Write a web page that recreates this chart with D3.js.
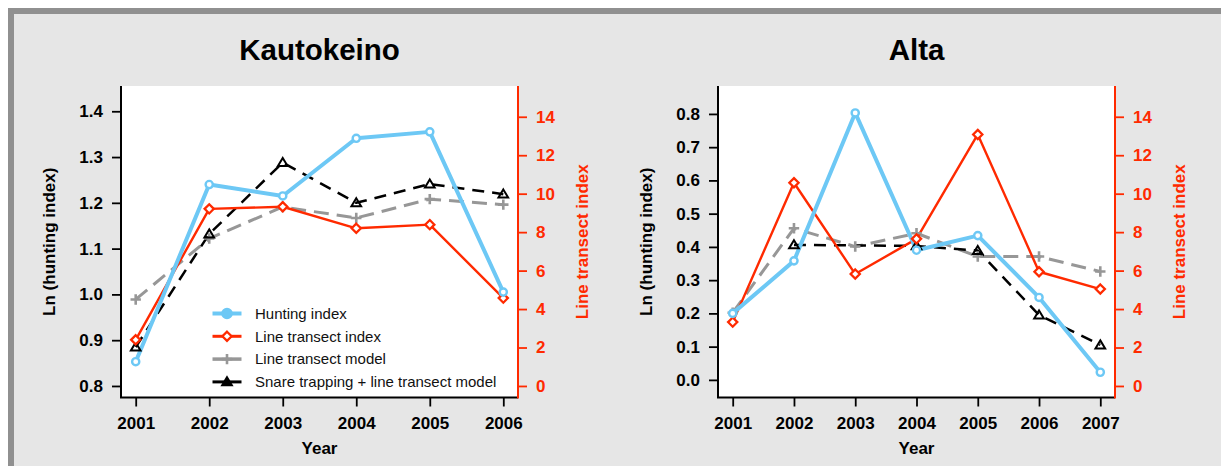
<!DOCTYPE html>
<html>
<head>
<meta charset="utf-8">
<script src="https://cdn.jsdelivr.net/npm/d3@7"></script>
<style>
  html, body { margin: 0; padding: 0; background: #ffffff; }
  svg { display: block; }
  text { font-family: "Liberation Sans", Arial, Helvetica, sans-serif; }
</style>
</head>
<body>
<svg id="chart" width="1221" height="466"></svg>
<script>
// ---- Data -------------------------------------------------------------
const kautoYears = [2001, 2002, 2003, 2004, 2005, 2006];
const kautoHunting = [0.853, 1.240, 1.215, 1.341, 1.355, 1.005];
const kautoTransect = [2.40, 9.21, 9.32, 8.20, 8.39, 4.57];
const kautoModel = [0.989, 1.122, 1.191, 1.167, 1.208, 1.196];
const kautoSnare = [0.885, 1.132, 1.288, 1.200, 1.241, 1.219];

const altaYears = [2001, 2002, 2003, 2004, 2005, 2006, 2007];
const altaHunting = [0.200, 0.358, 0.803, 0.390, 0.434, 0.248, 0.023];
const altaTransect = [3.32, 10.57, 5.82, 7.65, 13.08, 5.94, 5.04];
const altaModel = [0.202, 0.456, 0.401, 0.441, 0.371, 0.371, 0.326];
const altaSnare = [null, 0.406, null, 0.403, 0.389, 0.195, 0.105];

const kautoLeftTicks = [0.8, 0.9, 1.0, 1.1, 1.2, 1.3, 1.4];
const altaLeftTicks = [0.0, 0.1, 0.2, 0.3, 0.4, 0.5, 0.6, 0.7, 0.8];
const rightTicks = [0, 2, 4, 6, 8, 10, 12, 14];

const seriesNames = ["Hunting index", "Line transect index", "Line transect model",
                     "Snare trapping + line transect model"];

// ---- Styling ----------------------------------------------------------
const BLUE = "#6DC8F5", RED = "#FF2A00", GREY = "#979797", BLACK = "#000000";
const svg = d3.select("#chart");

svg.append("rect").attr("x", 0).attr("y", 0).attr("width", 1221).attr("height", 466).attr("fill", "#fff");
svg.append("rect").attr("x", 11).attr("y", 11).attr("width", 1230).attr("height", 470)
  .attr("fill", "#E6E6E6").attr("stroke", "#909090").attr("stroke-width", 6);

// R-style 4% axis expansion
function padded(lo, hi) { const r = hi - lo; return [lo - 0.04 * r, hi + 0.04 * r]; }

function marker(g, type, x, y, color, filled) {
  if (type === "circle") {
    g.append("circle").attr("cx", x).attr("cy", y).attr("r", filled ? 4.6 : 3.6)
      .attr("fill", filled ? color : "#fff").attr("stroke", color).attr("stroke-width", 2.4);
  } else if (type === "diamond") {
    const s = 4.6;
    g.append("path").attr("d", `M${x},${y - s}L${x + s},${y}L${x},${y + s}L${x - s},${y}Z`)
      .attr("fill", "#fff").attr("stroke", color).attr("stroke-width", 2.3);
  } else if (type === "plus") {
    const s = 5.2;
    g.append("path").attr("d", `M${x - s},${y}H${x + s}M${x},${y - s}V${y + s}`)
      .attr("fill", "none").attr("stroke", color).attr("stroke-width", 2.6);
  } else if (type === "triangle") {
    const s = 4.6;
    g.append("path").attr("d", `M${x},${y - s}L${x + s * 1.05},${y + s * 0.75}L${x - s * 1.05},${y + s * 0.75}Z`)
      .attr("fill", filled ? color : "none").attr("stroke", color).attr("stroke-width", 2)
      .attr("stroke-linejoin", "miter");
  }
}

function panel(cfg) {
  const { left, right, top, bottom } = cfg.box;
  const g = svg.append("g");
  g.append("rect").attr("x", left).attr("y", top).attr("width", right - left).attr("height", bottom - top)
    .attr("fill", "#fff");

  const x = d3.scaleLinear().domain(padded(d3.min(cfg.years), d3.max(cfg.years))).range([left, right]);
  const yL = d3.scaleLinear().domain(cfg.leftDomain).range([bottom, top]);
  const yR = d3.scaleLinear().domain(padded(0, 15)).range([bottom, top]);

  // Axes
  const fontAxis = (sel, color) => sel.selectAll("text")
    .attr("font-size", 17).attr("font-weight", "bold").attr("fill", color)
    .attr("font-family", '"Liberation Sans", Arial, sans-serif');

  const ax = g.append("g").attr("transform", `translate(0,${bottom})`)
    .call(d3.axisBottom(x).tickValues(cfg.years).tickFormat(d3.format("d")).tickSize(9).tickPadding(10));
  ax.select(".domain").remove();
  ax.selectAll("line").attr("stroke", BLACK).attr("stroke-width", 1.8);
  fontAxis(ax, BLACK);

  const ay = g.append("g").attr("transform", `translate(${left},0)`)
    .call(d3.axisLeft(yL).tickValues(cfg.leftTicks).tickFormat(d3.format(".1f")).tickSize(9).tickPadding(9));
  ay.select(".domain").remove();
  ay.selectAll("line").attr("stroke", BLACK).attr("stroke-width", 1.8);
  fontAxis(ay, BLACK);

  const ar = g.append("g").attr("transform", `translate(${right},0)`)
    .call(d3.axisRight(yR).tickValues(rightTicks).tickFormat(d3.format("d")).tickSize(9).tickPadding(9));
  ar.select(".domain").remove();
  ar.selectAll("line").attr("stroke", RED).attr("stroke-width", 1.8);
  fontAxis(ar, RED);

  // Frame lines: left + bottom in black, right in red
  g.append("path").attr("d", `M${left},${top}V${bottom}H${right}`)
    .attr("fill", "none").attr("stroke", BLACK).attr("stroke-width", 2);
  g.append("line").attr("x1", right).attr("x2", right).attr("y1", top).attr("y2", bottom + 1)
    .attr("stroke", RED).attr("stroke-width", 2);

  // Titles
  const cx = (left + right) / 2, cy = (top + bottom) / 2;
  g.append("text").attr("x", cx).attr("y", 59.5).attr("text-anchor", "middle")
    .attr("font-size", 29.5).attr("font-weight", "bold").text(cfg.title);
  g.append("text").attr("x", cx).attr("y", 453.5).attr("text-anchor", "middle")
    .attr("font-size", 17).attr("font-weight", "bold").text("Year");
  g.append("text").attr("transform", `translate(${left - 66},${cy}) rotate(-90)`)
    .attr("text-anchor", "middle").attr("font-size", 17).attr("font-weight", "bold")
    .text("Ln (hunting index)");
  g.append("text").attr("transform", `translate(${right + 70},${cy}) rotate(-90)`)
    .attr("text-anchor", "middle").attr("font-size", 17).attr("font-weight", "bold")
    .attr("fill", RED).text("Line transect index");

  // Series
  const series = [
    { vals: cfg.model, y: yL, color: GREY, width: 3, dash: "15,8", m: "plus" },
    { vals: cfg.snare, y: yL, color: BLACK, width: 2.5, dash: "12,8", m: "triangle" },
    { vals: cfg.transect, y: yR, color: RED, width: 2.4, dash: null, m: "diamond" },
    { vals: cfg.hunting, y: yL, color: BLUE, width: 4, dash: null, m: "circle" }
  ];
  series.forEach(s => {
    const pts = cfg.years.map((yr, i) => [yr, s.vals[i]]).filter(p => p[1] != null);
    const line = d3.line().x(p => x(p[0])).y(p => s.y(p[1]));
    g.append("path").attr("d", line(pts)).attr("fill", "none").attr("stroke", s.color)
      .attr("stroke-width", s.width).attr("stroke-dasharray", s.dash)
      .attr("stroke-linejoin", "round");
    s.pts = pts;
  });
  series.forEach(s => s.pts.forEach(p => marker(g, s.m, x(p[0]), s.y(p[1]), s.color, false)));

  // Legend
  if (cfg.legend) {
    const lg = g.append("g");
    const items = [
      { color: BLUE, m: "circle", w: 4, filled: true },
      { color: RED, m: "diamond", w: 3, filled: false },
      { color: GREY, m: "plus", w: 3.5, filled: false },
      { color: BLACK, m: "triangle", w: 3, filled: true }
    ];
    items.forEach((it, i) => {
      const yy = 313.5 + i * 22.8;
      lg.append("line").attr("x1", 212.5).attr("x2", 241.5).attr("y1", yy).attr("y2", yy)
        .attr("stroke", it.color).attr("stroke-width", it.w);
      marker(lg, it.m, 227, yy, it.color, it.filled);
      lg.append("text").attr("x", 255).attr("y", yy + 5.3).attr("font-size", 15)
        .attr("fill", "#111").text(seriesNames[i]);
    });
  }
}

panel({
  title: "Kautokeino", box: { left: 121, right: 518, top: 86, bottom: 397.5 },
  years: kautoYears, leftDomain: padded(0.8, 1.43), leftTicks: kautoLeftTicks,
  hunting: kautoHunting, transect: kautoTransect, model: kautoModel, snare: kautoSnare, legend: true
});
panel({
  title: "Alta", box: { left: 718, right: 1115, top: 86, bottom: 397.5 },
  years: altaYears, leftDomain: [-0.053, 0.884], leftTicks: altaLeftTicks,
  hunting: altaHunting, transect: altaTransect, model: altaModel, snare: altaSnare, legend: false
});
</script>
</body>
</html>
